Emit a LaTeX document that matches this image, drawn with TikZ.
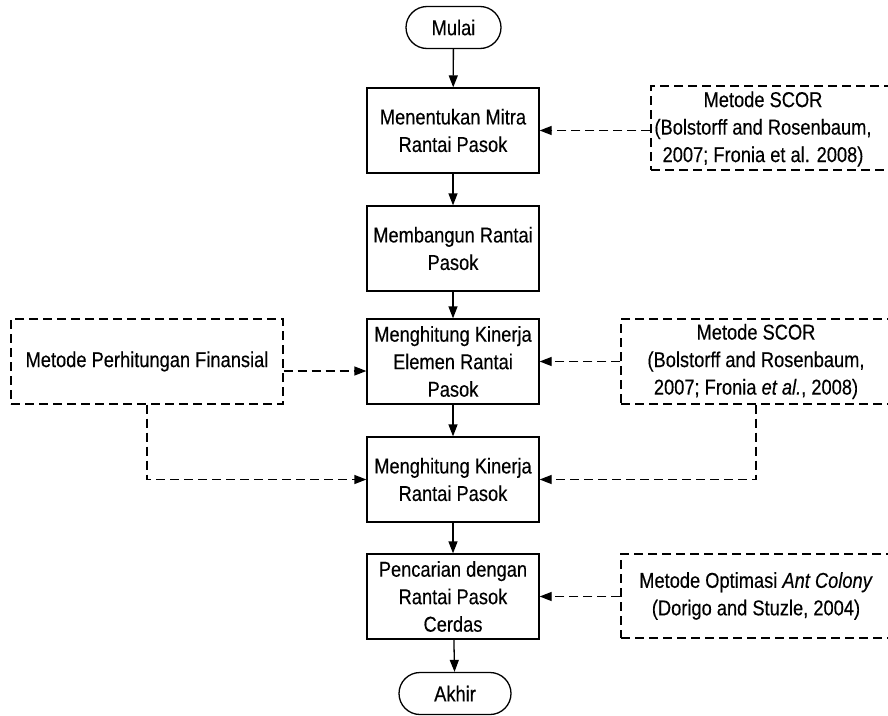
\documentclass[tikz,border=0pt]{standalone}
\usepackage{fontspec}
\setmainfont{Liberation Sans}[FakeStretch=0.85,FakeBold=0.3]
\usetikzlibrary{arrows.meta,shapes.misc,calc}
\begin{document}
\begin{tikzpicture}[x=1pt,y=-1pt,
  font=\fontsize{21.5}{27.5}\selectfont,
  every node/.style={align=center, inner sep=0pt},
  stepbox/.style={draw, line width=1.3pt, minimum width=172pt, minimum height=85pt},
  terminal/.style={draw, line width=1.3pt, rounded rectangle, minimum height=42pt},
  refbox/.style={draw, line width=1.3pt, dash pattern=on 9pt off 5pt, minimum height=85pt},
  flow/.style={line width=1.3pt, -{Triangle[length=12pt,width=9pt]}},
  ref/.style={flow, dash pattern=on 9pt off 5pt},
]
\useasboundingbox[fill=white] (0,0) rectangle (888,715);

% main flow
\node[terminal, minimum width=95pt] (mulai) at (453.5,27.5) {Mulai};
\node[stepbox] (b1) at (453,130.5) {Menentukan Mitra\\Rantai Pasok};
\node[stepbox] (b2) at (453,248.5) {Membangun Rantai\\Pasok};
\node[stepbox] (b3) at (453,361.5) {Menghitung Kinerja\\Elemen Rantai\\Pasok};
\node[stepbox] (b4) at (453,479.5) {Menghitung Kinerja\\Rantai Pasok};
\node[stepbox] (b5) at (453,596.5) {Pencarian dengan\\Rantai Pasok\\Cerdas};
\node[terminal, minimum width=112pt] (akhir) at (455,693.5) {Akhir};

% reference methods
\node[refbox, minimum width=240pt, minimum height=84pt] (scor1) at (771,128) {};
\node (scor1txt) at (763,129) {Metode SCOR\\(Bolstorff and Rosenbaum,\\2007; Fronia et al. 2008)};
\node[refbox, minimum width=272pt] (fin) at (147,361.5) {Metode Perhitungan Finansial};
\node[refbox, minimum width=270pt] (scor2) at (756,361.5) {Metode SCOR\\(Bolstorff and Rosenbaum,\\2007; Fronia \textit{et al.}, 2008)};
\node[refbox, minimum width=270pt, minimum height=84pt] (ant) at (756,596) {Metode Optimasi \textit{Ant Colony}\\(Dorigo and Stuzle, 2004)};

% flow connectors
\draw[flow] (mulai) -- (b1);
\draw[flow] (b1) -- (b2);
\draw[flow] (b2) -- (b3);
\draw[flow] (b3) -- (b4);
\draw[flow] (b4) -- (b5);
\draw[flow] (b5) -- (akhir);

% method connectors
\draw[ref] (b1.east -| scor1.west) -- (b1.east);
\coordinate (finin) at ($(b3.west)+(0,9.5)$);
\draw[ref] (finin -| fin.east) -- (finin);
\draw[ref] (b3.east -| scor2.west) -- (b3.east);
\draw[ref] (fin.south) |- (b4.west);
\draw[ref] (scor2.south) |- (b4.east);
\draw[ref] (b5.east -| ant.west) -- (b5.east);
\end{tikzpicture}
\end{document}
